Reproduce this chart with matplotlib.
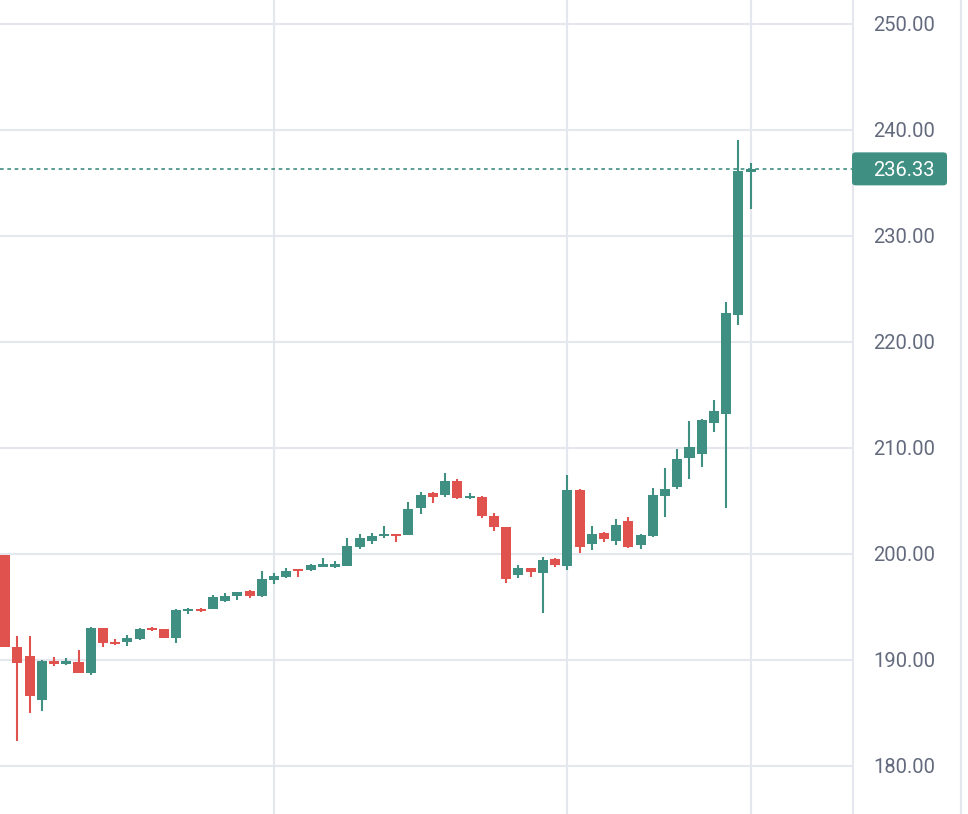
import matplotlib
matplotlib.use("Agg")
import matplotlib.pyplot as plt
from matplotlib.patches import FancyBboxPatch
from matplotlib.lines import Line2D
import matplotlib.transforms as mtransforms
import numpy as np

# ---- data ----
opens = [199.9, 191.2, 190.4, 186.2, 189.9, 189.6, 189.8, 188.8, 193.0, 191.7,
         191.65, 192.0, 193.0, 192.9, 192.1, 194.65, 194.85, 194.85, 195.6, 196.05,
         196.5, 196.05, 197.5, 197.85, 198.55, 198.45, 198.8, 198.75, 198.9, 200.65,
         201.25, 201.7, 201.85, 201.8, 204.35, 205.75, 205.55, 206.9, 205.25, 205.4,
         203.6, 202.5, 198.05, 198.65, 198.2, 199.55, 198.9, 206.05, 200.95, 202.0,
         201.25, 203.15, 200.8, 201.65, 205.5, 206.3, 209.1, 209.4, 212.35, 213.2,
         222.55, 236.0]
highs = [199.9, 192.3, 192.3, 190.0, 190.3, 190.2, 190.9, 193.1, 193.0, 192.0,
         192.4, 193.0, 193.1, 192.9, 194.8, 194.95, 194.9, 196.1, 196.3, 196.45,
         196.6, 198.4, 198.2, 198.65, 198.6, 199.1, 199.65, 199.3, 201.5, 201.9,
         202.0, 202.65, 201.85, 204.9, 205.85, 205.8, 207.6, 207.05, 205.75, 205.45,
         203.85, 202.55, 198.95, 198.65, 199.7, 199.6, 207.45, 206.15, 202.6, 202.05,
         203.3, 203.45, 201.85, 206.2, 208.1, 209.9, 212.55, 212.75, 214.55, 223.8,
         239.05, 236.85]
lows = [191.2, 182.4, 185.0, 185.2, 189.4, 189.5, 188.8, 188.6, 191.25, 191.4,
        191.3, 191.9, 192.7, 192.1, 191.6, 194.3, 194.55, 194.8, 195.45, 195.65,
        195.8, 195.95, 197.15, 197.75, 197.85, 198.4, 198.75, 198.65, 198.85, 200.45,
        200.9, 201.5, 201.1, 201.75, 203.75, 204.85, 205.35, 205.15, 205.2, 203.4,
        202.15, 197.3, 197.7, 197.85, 194.4, 198.75, 198.5, 200.1, 200.4, 201.15,
        200.85, 200.6, 200.45, 201.6, 203.45, 206.1, 207.1, 208.25, 211.55, 204.3,
        221.6, 232.5]
closes = [191.2, 189.75, 186.6, 189.9, 189.6, 189.9, 188.8, 193.0, 191.6, 191.5,
          192.1, 192.9, 192.8, 192.1, 194.7, 194.8, 194.6, 195.95, 196.0, 196.4,
          196.0, 197.65, 197.95, 198.4, 198.35, 199.0, 199.1, 199.05, 200.75, 201.5,
          201.7, 201.9, 201.65, 204.2, 205.55, 205.4, 206.9, 205.3, 205.45, 203.6,
          202.55, 197.65, 198.65, 198.3, 199.45, 199.0, 206.05, 200.7, 201.9, 201.45,
          202.75, 200.7, 201.8, 205.55, 206.15, 208.95, 210.05, 212.65, 213.5, 222.75,
          236.15, 236.33]
y_ticks = [180, 190, 200, 210, 220, 230, 240, 250]
y_tick_labels = ["180.00", "190.00", "200.00", "210.00", "220.00", "230.00", "240.00", "250.00"]
period_break_bars = [22, 46, 61]
last_price_label = "236.33"

# ---- style ----
GREEN = "#3f8f82"
RED = "#e0524e"
GRID = "#e4e7ed"
TEXT = "#636a7d"
FONT = ["Roboto", "DejaVu Sans"]

W, H = 968, 814
fig = plt.figure(figsize=(W / 100, H / 100), dpi=100)
fig.patch.set_facecolor("white")
ax_right_px = 853
ax = fig.add_axes([0, 0, ax_right_px / W, 1])
ax.set_facecolor("white")

o = np.array(opens); h = np.array(highs); l = np.array(lows); c = np.array(closes)
x = np.arange(len(o))
up = c >= o
colors = np.where(up, GREEN, RED)

ax.set_xlim(-0.424, 69.38)
ax.set_ylim(175.47, 252.26)

# grid
for yv in y_ticks:
    ax.axhline(yv, color=GRID, lw=1.5, zorder=0)
for xv in period_break_bars:
    ax.axvline(xv, color=GRID, lw=1.5, zorder=0)

# wicks
ax.vlines(x, l, h, colors=colors, lw=1.5, zorder=2)
# bodies
bottoms = np.minimum(o, c)
heights = np.maximum(np.abs(c - o), 0.12)
ax.bar(x, heights, bottom=bottoms, width=0.82, color=colors, edgecolor="none", zorder=3)

# last price line
ax.axhline(c[-1], color=GREEN, lw=1.2, ls=(0, (2.2, 2.2)), zorder=1)

# axis styling
for s in ["top", "left", "bottom"]:
    ax.spines[s].set_visible(False)
ax.spines["right"].set_color(GRID)
ax.spines["right"].set_linewidth(1.5)
ax.set_xticks([])
ax.yaxis.tick_right()
ax.set_yticks(y_ticks)
ax.set_yticklabels(y_tick_labels, fontfamily=FONT, fontsize=14.5, color=TEXT)
ax.tick_params(axis="y", length=0, pad=14.4)

# last price tag
fig.canvas.draw()
ypx = ax.transData.transform((0, c[-1]))[1]
box_h = 33
box = FancyBboxPatch((852 / W, (ypx - box_h / 2) / H), 95 / W, box_h / H,
                     boxstyle="round,pad=0,rounding_size=0.004",
                     transform=fig.transFigure, facecolor=GREEN, edgecolor="none",
                     zorder=5)
fig.patches.append(box)
fig.text(873 / W, ypx / H, last_price_label, fontfamily=FONT, fontsize=14.5,
         color="white", ha="left", va="center_baseline", zorder=6)

# second panel border at far right
fig.add_artist(Line2D([961 / W, 961 / W], [0, 1], transform=fig.transFigure,
                      color=GRID, lw=1.5))

fig.savefig("out.png", dpi=100, facecolor="white")
